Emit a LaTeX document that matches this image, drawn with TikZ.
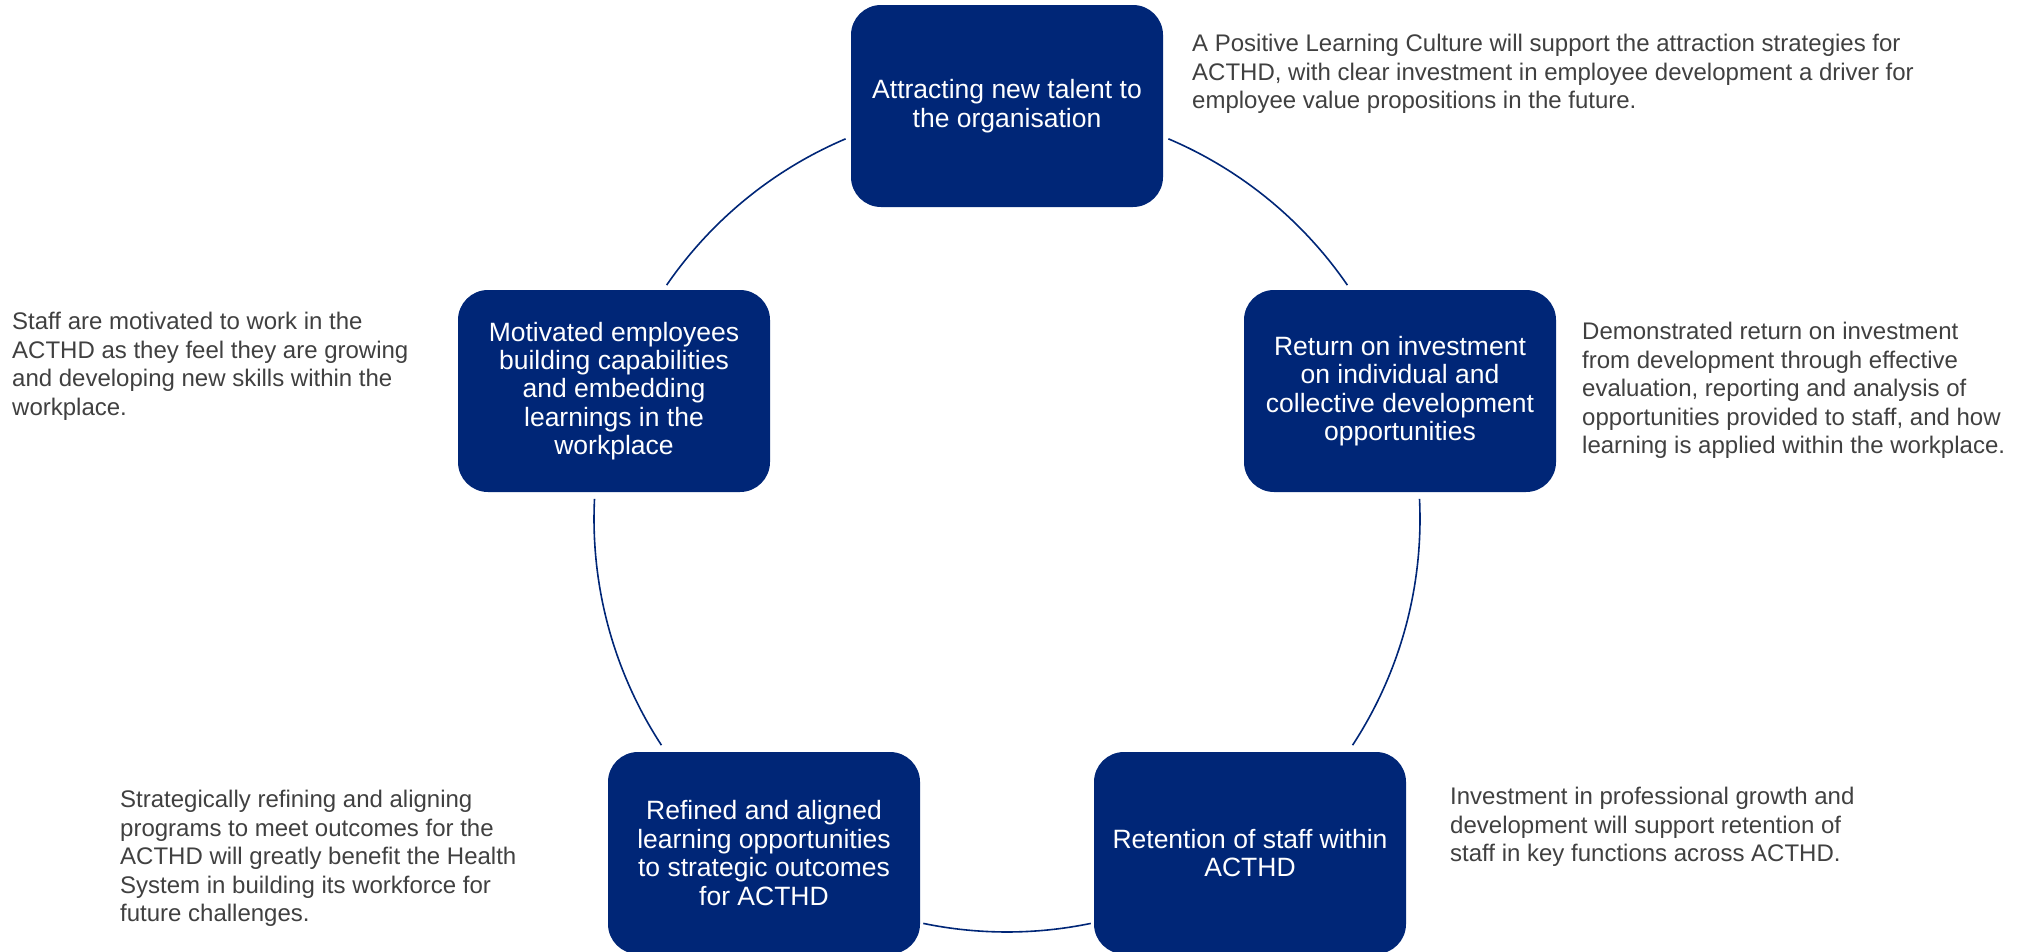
\documentclass[tikz,border=0pt]{standalone}
\usepackage{fontspec}
\setmainfont{Liberation Sans}
\definecolor{navy}{RGB}{0,38,119}
\definecolor{ink}{RGB}{64,64,64}

\begin{document}
\begin{tikzpicture}[x=1pt,y=1pt,
  stage/.style={fill=navy, rounded corners=30pt, minimum width=312pt,
    minimum height=202pt, text=white, align=center, inner sep=0pt,
    font=\fontsize{26.5}{28.4}\selectfont,
    execute at begin node={\rule{0pt}{24pt}}},
  note/.style={anchor=north west, align=left, text=ink, inner sep=0pt,
    font=\fontsize{24}{28.5}\selectfont},
  cyc/.style={draw=navy, line width=1.6pt}]
\useasboundingbox (0,0) rectangle (2017,-951);

% the five stages of the cycle
\node[stage] (attract) at (1007,-106) {Attracting new talent to\\the organisation};
\node[stage] (roi) at (1400,-391) {Return on investment\\on individual and\\collective development\\opportunities};
\node[stage] (retain) at (1250,-853) {Retention of staff within\\ACTHD};
\node[stage] (refine) at (764,-853) {Refined and aligned\\learning opportunities\\to strategic outcomes\\for ACTHD};
\node[stage] (motiv) at (614,-391) {Motivated employees\\building capabilities\\and embedding\\learnings in the\\workplace};

% ring segments joining neighbouring stages
\coordinate (hub) at (1007,-519);
\def\R{413}
\draw[cyc] ([shift={(67:\R)}]hub) arc[start angle=67, end angle=34.5, radius=\R];
\draw[cyc] ([shift={(2.8:\R)}]hub) arc[start angle=2.8, end angle=-33.2, radius=\R];
\draw[cyc] ([shift={(-78.3:\R)}]hub) arc[start angle=-78.3, end angle=-101.7, radius=\R];
\draw[cyc] ([shift={(213.2:\R)}]hub) arc[start angle=213.2, end angle=177.2, radius=\R];
\draw[cyc] ([shift={(145.5:\R)}]hub) arc[start angle=145.5, end angle=113, radius=\R];

% explanatory notes
\node[note] (n1) at (1192,-34) {A Positive Learning Culture will support the attraction strategies for\\ACTHD, with clear investment in employee development a driver for\\employee value propositions in the future.};
\node[note] (n2) at (1582,-322) {Demonstrated return on investment\\from development through effective\\evaluation, reporting and analysis of\\opportunities provided to staff, and how\\learning is applied within the workplace.};
\node[note] (n3) at (1450,-787) {Investment in professional growth and\\development will support retention of\\staff in key functions across ACTHD.};
\node[note] (n4) at (120,-790) {Strategically refining and aligning\\programs to meet outcomes for the\\ACTHD will greatly benefit the Health\\System in building its workforce for\\future challenges.};
\node[note] (n5) at (12,-312) {Staff are motivated to work in the\\ACTHD as they feel they are growing\\and developing new skills within the\\workplace.};
\end{tikzpicture}
\end{document}
